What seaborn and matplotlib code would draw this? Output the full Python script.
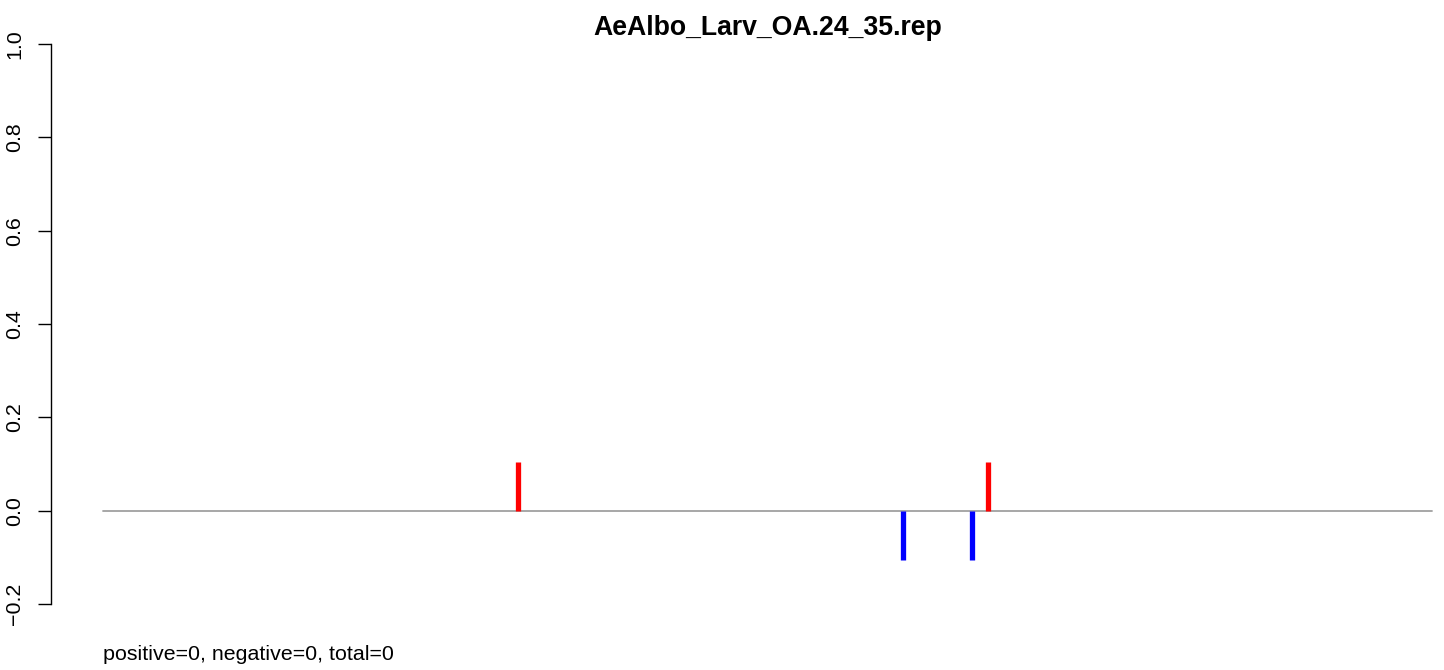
import pandas as pd
import matplotlib
matplotlib.use("Agg")
import matplotlib.pyplot as plt
import seaborn as sns

# Data
title = "AeAlbo_Larv_OA.24_35.rep"
footer = "positive=0, negative=0, total=0"
baseline_x = [0, 1000]
positions = [312, 602, 654, 666]
values = [0.105, -0.105, -0.105, 0.105]
y_ticks = [-0.2, 0.0, 0.2, 0.4, 0.6, 0.8, 1.0]

marks = pd.DataFrame({"pos": positions, "val": values})
marks["color"] = ["red" if v > 0 else "blue" for v in marks["val"]]

sns.set_style("ticks")
plt.rcParams["font.family"] = ["Liberation Sans", "DejaVu Sans"]
plt.rcParams["text.color"] = "black"
plt.rcParams["ytick.color"] = "black"
plt.rcParams["ytick.labelcolor"] = "black"

fig = plt.figure(figsize=(14.44, 6.70), dpi=100)
W, H = 1444, 670
ax = fig.add_axes([51 / W, (H - 604) / H, (1440 - 51) / W, (604 - 44) / H])

# baseline
sns.lineplot(x=baseline_x, y=[0, 0], ax=ax, color="#a0a0a0", linewidth=1.3)

# bars
ax.vlines(marks["pos"], 0, marks["val"], colors=marks["color"], linewidth=3.8,
          capstyle="butt", zorder=3)

ax.set_xlim(-39.1, 1006)
ax.set_ylim(-0.2, 1.0)
ax.set_yticks(y_ticks)
ax.set_yticklabels([f"{t:.1f}".replace("-", "\u2212") for t in y_ticks],
                   rotation=90, va="center", fontsize=15.4)
ax.tick_params(axis="y", length=9.5, width=1.0, pad=10, color="black",
               labelcolor="black")
ax.set_xticks([])
for s in ["top", "right", "bottom"]:
    ax.spines[s].set_visible(False)
ax.spines["left"].set_linewidth(1.0)
ax.spines["left"].set_color("black")

fig.text(768 / W, 1 - 28 / H, title, ha="center", va="center",
         fontsize=19.2, fontweight="bold", color="black")
fig.text(103 / W, 1 - 655 / H, footer, ha="left", va="center", fontsize=15.4,
         color="black")

fig.savefig("out.png", dpi=100, facecolor="white")
